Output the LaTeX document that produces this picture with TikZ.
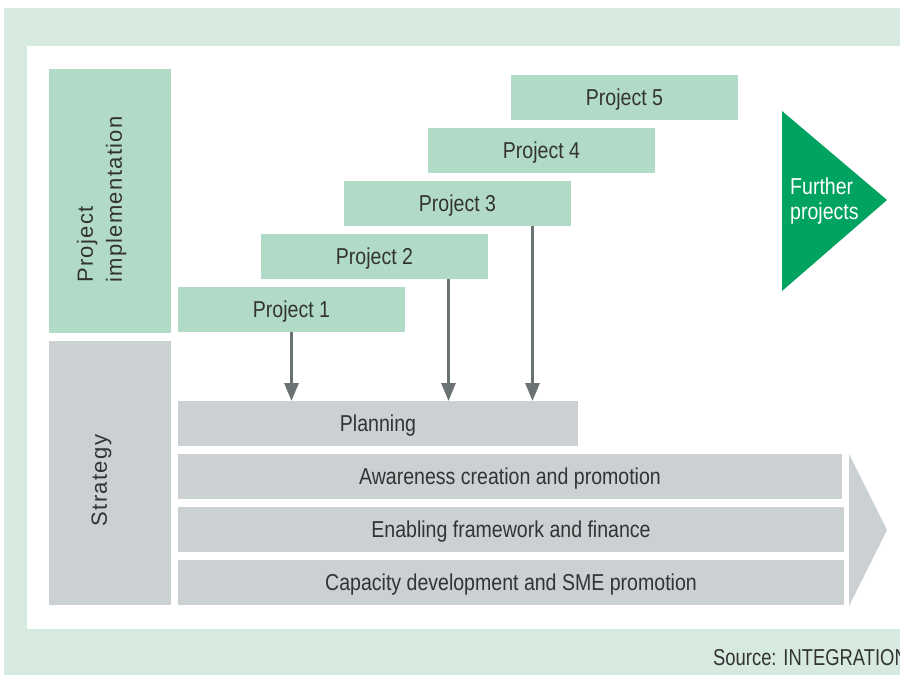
\documentclass[tikz,border=0pt]{standalone}
\usepackage{fontspec}
\setmainfont[FakeStretch=0.85]{Liberation Sans}
\newfontfamily\labelfont[LetterSpace=6]{Liberation Sans}
\newfontfamily\sourcefont[FakeStretch=0.8]{Liberation Sans}
\usetikzlibrary{arrows.meta}
\definecolor{bgband}{HTML}{D7EAE0}
\definecolor{projgreen}{HTML}{B1DBC7}
\definecolor{stratgrey}{HTML}{CBD0D3}
\definecolor{darkgreen}{HTML}{00A360}
\definecolor{arrowgrey}{HTML}{6A7273}
\definecolor{txt}{HTML}{333333}
\tikzset{
  bar/.style={anchor=north west, inner sep=0pt, outer sep=0pt,
    minimum height=45pt, text=txt,
    font=\fontsize{23}{25}\selectfont, text height=16.5pt, text depth=0pt},
  projbox/.style={bar, fill=projgreen, minimum width=227pt},
  stratbar/.style={bar, fill=stratgrey},
  sidebox/.style={anchor=north west, inner sep=0pt, outer sep=0pt,
    minimum width=122pt, minimum height=264pt},
  sidelabel/.style={inner sep=0pt, rotate=90, text=txt, align=left,
    font=\labelfont\fontsize{22}{29}\selectfont},
  feed/.style={draw=arrowgrey, line width=3pt,
    -{Triangle[width=14pt,length=18pt]}}
}
\begin{document}
\begin{tikzpicture}[x=1pt,y=-1pt]
\useasboundingbox (0,0) rectangle (900,675);
\clip (0,0) rectangle (900,675);
% frame: pale band with white panel
\fill[bgband] (4,8) rectangle (905,680);
\fill[white] (27,46) rectangle (905,629);

% left column
\node[sidebox, fill=projgreen] (impl) at (49,69) {};
\node[sidebox, fill=stratgrey] (strat) at (49,341) {};
\node[sidelabel, anchor=west] (impltext) at (101.8,283) {Project\\implementation};
\node[sidelabel, anchor=center, text height=15.75pt, text depth=0pt] (strattext) at (99,480.5) {Strategy};

% staggered projects
\node[projbox] (p1) at (178,287) {Project 1};
\node[projbox] (p2) at (261,234) {Project 2};
\node[projbox] (p3) at (344,181) {Project 3};
\node[projbox] (p4) at (428,128) {Project 4};
\node[projbox] (p5) at (511,75) {Project 5};

% further projects
\fill[darkgreen] (782,111) -- (887,200) -- (782,291) -- cycle;
\node[anchor=west, inner sep=0pt, align=left, text=white,
  font=\fontsize{23}{25}\selectfont] (further) at (790,201.5) {Further\\projects};

% strategy bars
\node[stratbar, minimum width=400pt] (plan) at (178,401) {Planning};
\node[stratbar, minimum width=664pt] (aware) at (178,454) {Awareness creation and promotion};
\node[stratbar, minimum width=666pt] (enable) at (178,507) {Enabling framework and finance};
\node[stratbar, minimum width=666pt] (capac) at (178,560) {Capacity development and SME promotion};
\fill[stratgrey] (849,454) -- (887,530) -- (849,606) -- cycle;

% projects feeding into planning
\coordinate (out2) at ([xshift=74pt]p2.south);
\coordinate (out3) at ([xshift=75pt]p3.south);
\draw[feed] (p1.south) -- (plan.north -| p1.south);
\draw[feed] (out2) -- (plan.north -| out2);
\draw[feed] (out3) -- (plan.north -| out3);

% source line
\node[anchor=base west, inner sep=0pt, text=txt,
  font=\sourcefont\fontsize{23}{25}\selectfont] (source) at (713,665) {Source: INTEGRATION};
\end{tikzpicture}
\end{document}
